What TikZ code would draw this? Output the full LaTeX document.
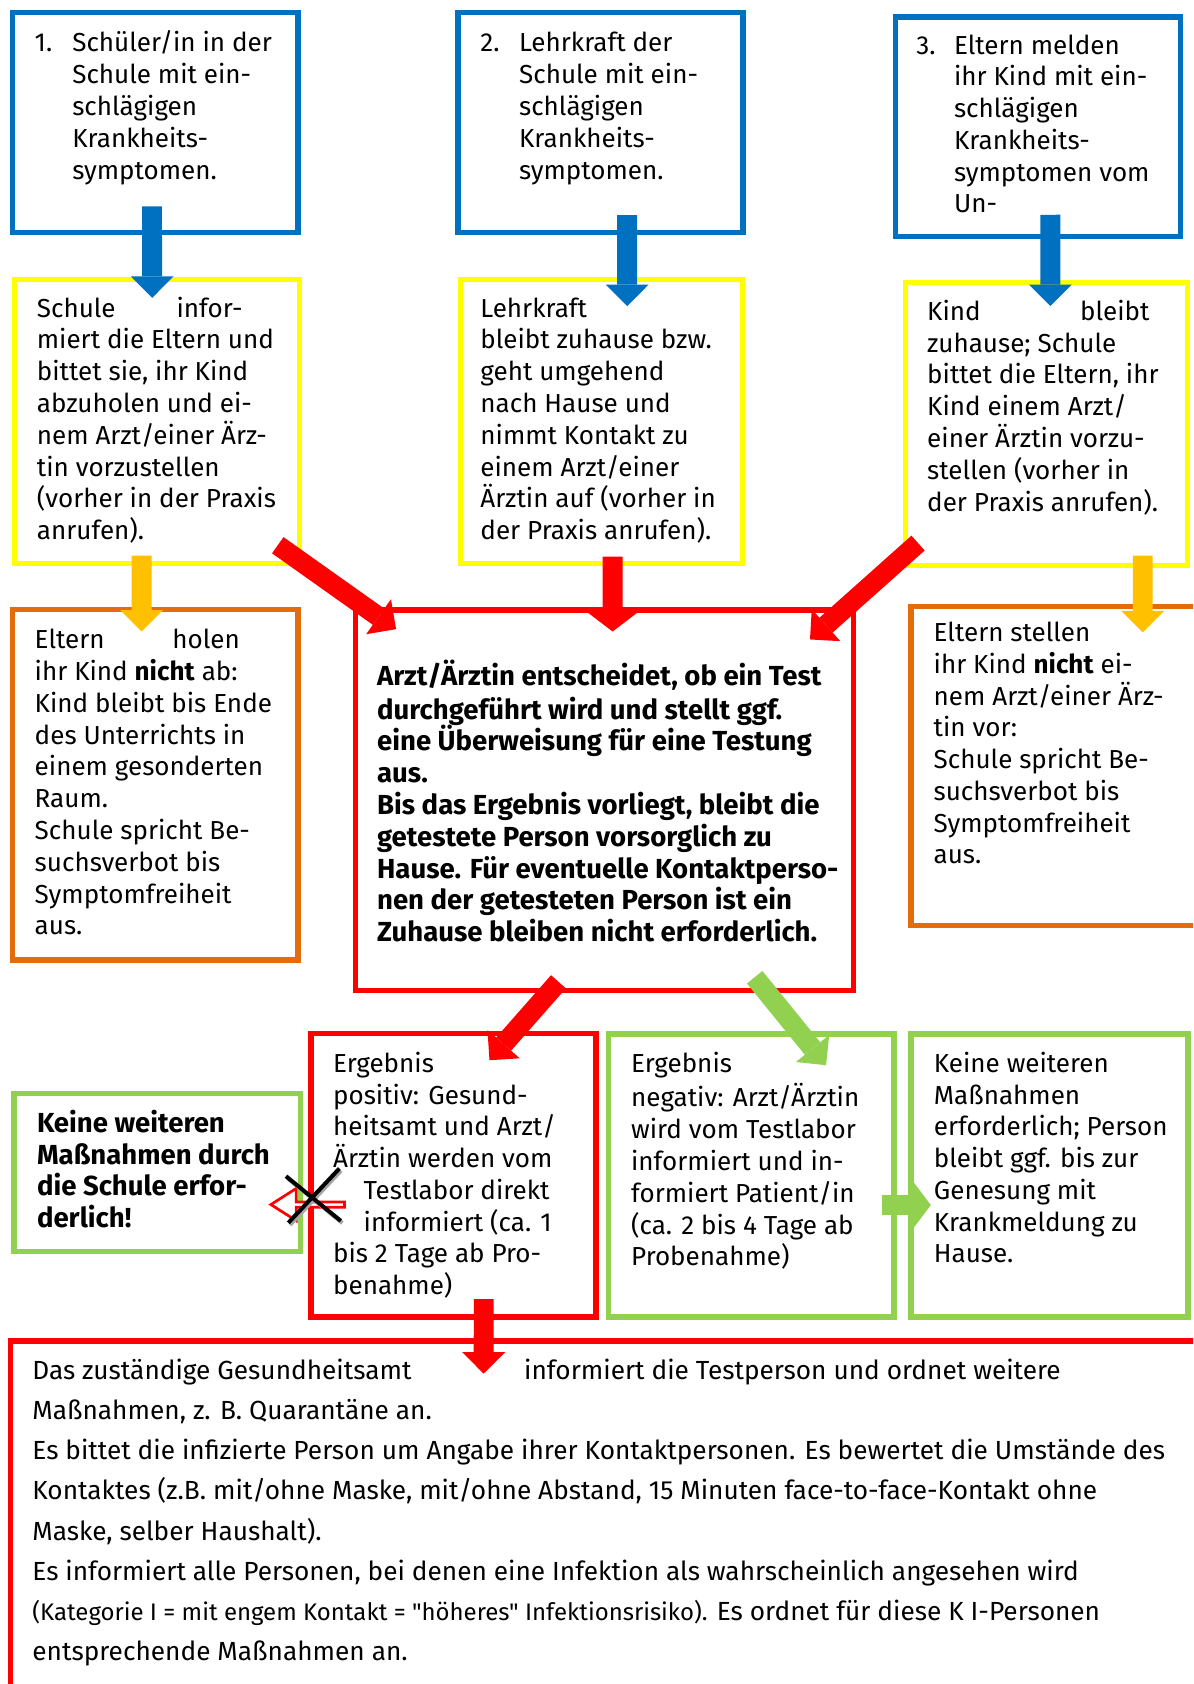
\documentclass[tikz,border=0pt]{standalone}
\usepackage{fontspec}
\setmainfont{Fira Sans}
\newfontfamily\katfont[Ligatures=TeXOff]{Fira Sans}
\usetikzlibrary{arrows.meta}
\usetikzlibrary{calc}
\usetikzlibrary{shapes.arrows}
\definecolor{msblue}{RGB}{0,112,192}
\definecolor{msyellow}{RGB}{255,255,0}
\definecolor{msorange}{RGB}{228,108,10}
\definecolor{msgold}{RGB}{255,192,0}
\definecolor{msred}{RGB}{255,0,0}
\definecolor{msgreen}{RGB}{146,208,80}
\tikzset{
    box/.style = {rectangle, line width=0.1cm, anchor=north west, inner sep=0pt, outer sep=0pt},
    boxb/.style = {box, draw=msblue},
    boxy/.style = {box, draw=msyellow},
    boxo/.style = {box, draw=msorange},
    boxr/.style = {box, draw=msred},
    boxg/.style = {box, draw=msgreen},
    % text nodes are placed at the baseline of their first line (which starts with \strut)
    txt/.style = {anchor=north west, align=left, inner sep=0pt, yshift=0.4143cm,
                  font=\fontsize{13.8}{16.84}\selectfont},
    txtb/.style = {txt, font=\fontsize{14.6}{16.84}\selectfont\bfseries},
    txtl/.style = {txt, yshift=0.1097cm, font=\fontsize{13.9}{21.3}\selectfont},
    edge/.style = {line width=0.37cm, -{Triangle[width=0.8cm,length=0.4cm,line width=0pt]}},
    edgeb/.style = {edge, msblue},
    edgey/.style = {edge, msgold},
    edger/.style = {edge, msred},
    edgeg/.style = {edge, msgreen},
    cross/.style = {line width=0.075cm, line cap=butt}
}

\begin{document}
\begin{tikzpicture}[x=0.02cm, y=-0.02cm]
\useasboundingbox (0,0) rectangle (1111,1568);
\clip (0,0) rectangle (1111,1568);
%
\node[boxb, minimum width=5.31cm, minimum height=4.09cm] (s1) at (11.9,11.9) {};
\node[boxb, minimum width=5.31cm, minimum height=4.09cm] (s2) at (426.3,11.9) {};
\node[boxb, minimum width=5.30cm, minimum height=4.09cm] (s3) at (834,15.8) {};
\node[boxy, minimum width=5.31cm, minimum height=5.29cm] (y1) at (13.5,260) {};
\node[boxy, minimum width=5.26cm, minimum height=5.29cm] (y2) at (428.6,260) {};
\node[boxy, minimum width=5.25cm, minimum height=5.26cm] (y3) at (843.3,263.3) {};
\node[boxo, minimum width=5.32cm, minimum height=6.52cm] (o1) at (11.5,567.8) {};
\node[boxo, minimum width=5.53cm, minimum height=5.95cm] (o3) at (848.3,564.5) {};
\node[boxr, minimum width=9.27cm, minimum height=7.09cm] (ac) at (331,568) {};
\node[boxg, minimum width=5.33cm, minimum height=2.94cm] (g1) at (13.2,1018.2) {};
\node[boxr, minimum width=5.31cm, minimum height=5.28cm] (r2) at (289.5,962.3) {};
\node[boxg, minimum width=5.32cm, minimum height=5.27cm] (g2) at (566.5,962.7) {};
\node[boxg, minimum width=5.16cm, minimum height=5.27cm] (g3) at (848.3,962.7) {};
\node[boxr, minimum width=22.4cm, minimum height=7.4cm] (gs) at (10,1248.7) {};
%
\node[txt] (s1n) at (32,48) {\strut 1.};
\node[txt] (s1t) at (67,48) {\strut Schüler/in in der\\Schule mit ein-\\schlägigen\\Krankheits-\\symptomen.};
\node[txt] (s2n) at (447,48) {\strut 2.};
\node[txt] (s2t) at (483,48) {\strut Lehrkraft der\\Schule mit ein-\\schlägigen\\Krankheits-\\symptomen.};
\node[txt] (s3n) at (853,50) {\strut 3.};
\node[txt] (s3t) at (888,50) {\strut Eltern melden\\ihr Kind mit ein-\\schlägigen\\Krankheits-\\symptomen vom\\Un-};
\node[txt] (y1t) at (34,295) {\strut\makebox[3.83cm][s]{Schule infor-}\\miert die Eltern und\\bittet sie, ihr Kind\\abzuholen und ei-\\nem Arzt/einer Ärz-\\tin vorzustellen\\(vorher in der Praxis\\anrufen).};
\node[txt] (y2t) at (447,295) {\strut Lehrkraft\\bleibt zuhause bzw.\\geht umgehend\\nach Hause und\\nimmt Kontakt zu\\einem Arzt/einer\\Ärztin auf (vorher in\\der Praxis anrufen).};
\node[txt] (y3t) at (863,298) {\strut\makebox[4.14cm][s]{Kind bleibt}\\zuhause; Schule\\bittet die Eltern, ihr\\Kind einem Arzt/\\einer Ärztin vorzu-\\stellen (vorher in\\der Praxis anrufen).};
\node[txt] (o1t) at (32,603.8) {\strut\makebox[3.82cm][s]{Eltern holen}\\ihr Kind \textbf{nicht} ab:\\Kind bleibt bis Ende\\des Unterrichts in\\einem gesonderten\\Raum.\\Schule spricht Be-\\suchsverbot bis\\Symptomfreiheit\\aus.};
\node[txt] (o3t) at (869,597) {\strut Eltern stellen\\ihr Kind \textbf{nicht} ei-\\nem Arzt/einer Ärz-\\tin vor:\\Schule spricht Be-\\suchsverbot bis\\Symptomfreiheit\\aus.};
\node[txtb] (act) at (350.8,634.8) {\strut Arzt/Ärztin entscheidet, ob ein Test\\durchgeführt wird und stellt ggf.\\eine Überweisung für eine Testung\\aus.\\Bis das Ergebnis vorliegt, bleibt die\\getestete Person vorsorglich zu\\Hause. Für eventuelle Kontaktperso-\\nen der getesteten Person ist ein\\Zuhause bleiben nicht erforderlich.};
\node[txtb] (g1t) at (34.1,1053.9) {\strut Keine weiteren\\Maßnahmen durch\\die Schule erfor-\\derlich!};
\node[txt] (r2t) at (309.8,998) {\strut Ergebnis\\positiv: Gesund-\\heitsamt und Arzt/\\Ärztin werden vom\\\hspace*{0.57cm}Testlabor direkt\\\hspace*{0.57cm}informiert (ca. 1\\bis 2 Tage ab Pro-\\benahme)};
\node[txt] (g2t) at (587.3,998) {\strut Ergebnis\\negativ: Arzt/Ärztin\\wird vom Testlabor\\informiert und in-\\formiert Patient/in\\(ca. 2 bis 4 Tage ab\\Probenahme)};
\node[txt] (g3t) at (869.2,998) {\strut Keine weiteren\\Maßnahmen\\erforderlich; Person\\bleibt ggf. bis zur\\Genesung mit\\Krankmeldung zu\\Hause.};
\node[txtl] (gst) at (29.8,1284) {\strut\makebox[9.16cm][l]{Das zuständige Gesundheitsamt}informiert die Testperson und ordnet weitere\\Maßnahmen, z. B. Quarantäne an.\\Es bittet die infizierte Person um Angabe ihrer Kontaktpersonen. Es bewertet die Umstände des\\Kontaktes (z.B. mit/ohne Maske, mit/ohne Abstand, 15 Minuten face-to-face-Kontakt ohne\\Maske, selber Haushalt).\\Es informiert alle Personen, bei denen eine Infektion als wahrscheinlich angesehen wird\\{\katfont\fontsize{12.7}{21.3}\selectfont (Kategorie I = mit engem Kontakt = "höheres" Infektionsrisiko).} Es ordnet für diese K I-Personen\\entsprechende Maßnahmen an.};
%
\draw[edgeb] ($(s1.south)+(-3.1,-24.2)$) -- ($(y1.north)+(-4.5,17.3)$);
\draw[edgeb] ($(s2.south)+(24.9,-16)$) -- ($(y2.north)+(23.9,25)$);
\draw[edgeb] ($(s3.south)+(11.5,-20.3)$) -- ($(y3.north)+(3.5,21.7)$);
\draw[edgey] ($(y1.south)+(-14.4,-7)$) -- ($(o1.north)+(-12.6,20.2)$);
\draw[edgey] ($(y3.south)+(89.5,-8.9)$) -- ($(o3.north)+(77.5,24.3)$);
\draw[edger, -{Triangle[width=1.05cm,length=0.4cm,line width=0pt]}] ($(y2.south)+(10.3,-6.1)$) -- ($(ac.north)+(7.7,20)$);
\draw[edger] ($(y1.south east)+(-20.3,-16.8)$) -- ($(ac.north west)+(37.8,17.8)$);
\draw[edger] ($(y3.south west)+(11.5,-20.6)$) -- ($(ac.north east)+(-40.2,27.4)$);
\draw[edger] ($(ac.south)+(-42.7,-8.3)$) -- ($(r2.north)+(33.5,24.9)$);
\draw[edgeg] ($(ac.south)+(140,-12.5)$) -- ($(g2.north)+(69.7,29.1)$);
\draw[edgeg, -{Triangle[width=0.93cm,length=0.35cm,line width=0pt]}] ($(g2.east)+(-11.5,27.6)$) -- ($(g3.west)+(18.4,27.6)$);
\draw[edger] ($(r2.south)+(28.2,-16.6)$) -- ($(gs.north)+(-119.6,30.3)$);
%
\node[single arrow, draw=msred, line width=0.05cm, fill=white, shape border rotate=180,
      minimum height=1.37cm, minimum width=0.6cm, single arrow head extend=0.13cm,
      single arrow tip angle=65, inner sep=0pt, anchor=tip] (nogo) at ($(r2.west)+(-39.6,27.3)$) {};
\coordinate (x0) at ($(r2.west)+(2.5,20.7)$);
\draw[cross, gray!70] ($(x0)+(-24.2,-17.8)$) -- ($(x0)+(26.8,23.8)$);
\draw[cross, gray!70] ($(x0)+(25.5,-25)$) -- ($(x0)+(-22,25.6)$);
\draw[cross] ($(x0)+(-25.7,-19.8)$) -- ($(x0)+(25.3,21.8)$);
\draw[cross] ($(x0)+(24,-27)$) -- ($(x0)+(-23.5,23.6)$);
\end{tikzpicture}
\end{document}
